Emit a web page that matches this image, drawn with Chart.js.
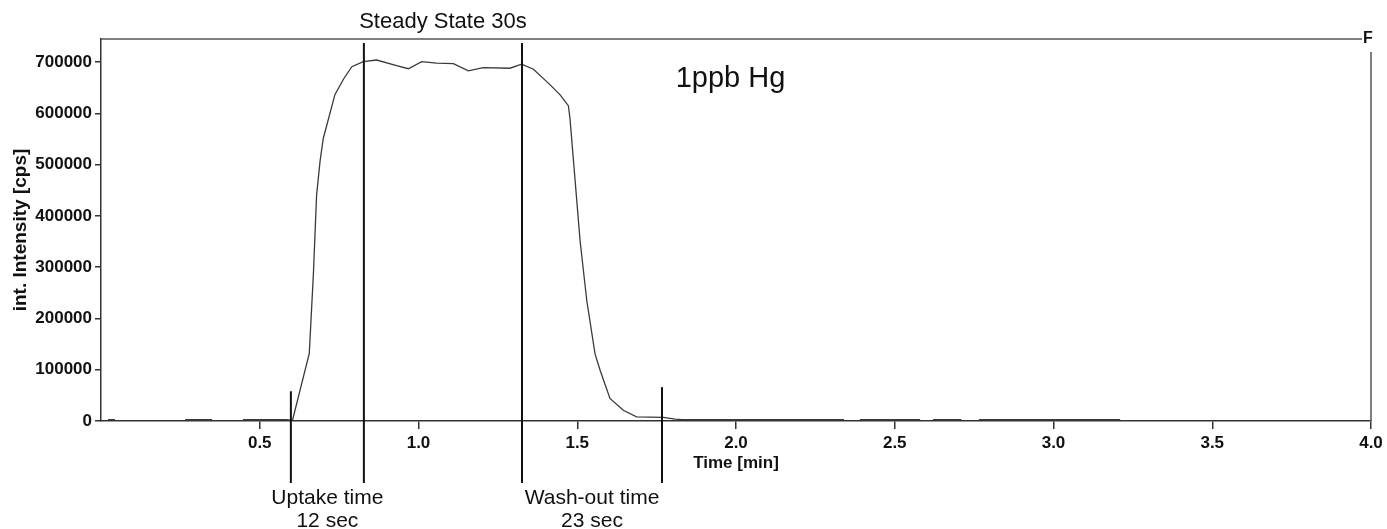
<!DOCTYPE html>
<html>
<head>
<meta charset="utf-8">
<script src="https://cdn.jsdelivr.net/npm/chart.js@4.4.1/dist/chart.umd.min.js"></script>
<style>
  html, body { margin: 0; padding: 0; background: #fff; }
  #wrap { width: 1387px; height: 529px; }
</style>
</head>
<body>
<div id="wrap"><canvas id="chart"></canvas></div>
<script>
// Hg signal (null = gap in the trace)
const timeMin = [0.022, 0.044, 0.045, 0.265, 0.350, 0.351, 0.447, 0.585, 0.603, 0.656, 0.669, 0.679,
  0.690, 0.700, 0.737, 0.765, 0.790, 0.826, 0.868, 0.931, 0.968, 1.010, 1.057, 1.110, 1.157, 1.204,
  1.288, 1.325, 1.362, 1.414, 1.446, 1.472, 1.477, 1.509, 1.530, 1.556, 1.572, 1.603, 1.645, 1.687,
  1.771, 1.808, 1.830, 2.340, 2.341, 2.390, 2.580, 2.581, 2.620, 2.710, 2.711, 2.765, 3.210];
const intensity = [2500, 2500, null, 2500, 2500, null, 2500, 2500, 1000, 132000, 287000, 440000,
  507000, 551000, 637000, 668000, 691000, 701000, 704000, 693000, 687000, 701000, 698000, 697000, 683000, 689000,
  688000, 696000, 686000, 656000, 636000, 615000, 591000, 351000, 235000, 131000, 99000, 44000, 21000, 8000,
  7000, 3500, 2500, 2500, null, 2500, 2500, null, 2500, 2500, null, 2500, 2500];

const xTicks = [0.5, 1.0, 1.5, 2.0, 2.5, 3.0, 3.5, 4.0];
const yTicks = [0, 100000, 200000, 300000, 400000, 500000, 600000, 700000];

// marker lines: uptake start, steady start, steady end, wash-out end
const markerTimes = [0.598, 0.828, 1.326, 1.767];
const markerTops = [58000, 737000, 737000, 66000];

const fontFamily = '"Liberation Sans", Arial, sans-serif';

const annotate = {
  id: 'annotate',
  afterDraw(chart) {
    const { ctx, chartArea: a, scales: { x, y } } = chart;
    ctx.save();

    // top and right frame with the F mark
    ctx.strokeStyle = '#555';
    ctx.lineWidth = 1.5;
    ctx.beginPath();
    ctx.moveTo(a.left, a.top);
    ctx.lineTo(a.right - 9, a.top);
    ctx.stroke();
    ctx.beginPath();
    ctx.moveTo(a.right, a.top + 13);
    ctx.lineTo(a.right, a.bottom);
    ctx.stroke();
    ctx.fillStyle = '#111';
    ctx.font = 'bold 16px ' + fontFamily;
    ctx.textAlign = 'center';
    ctx.textBaseline = 'middle';
    ctx.fillText('F', a.right - 3, a.top);

    // vertical markers
    ctx.strokeStyle = '#111';
    ctx.lineWidth = 2;
    const px = markerTimes.map((t) => x.getPixelForValue(t));
    px.forEach((p, i) => {
      ctx.beginPath();
      ctx.moveTo(p, y.getPixelForValue(markerTops[i]));
      ctx.lineTo(p, a.bottom + 62);
      ctx.stroke();
    });

    ctx.font = '22px ' + fontFamily;
    ctx.fillText('Steady State 30s', (px[1] + px[2]) / 2, a.top - 17);
    ctx.font = '21px ' + fontFamily;
    ctx.fillText('Uptake time', (px[0] + px[1]) / 2, a.bottom + 77);
    ctx.fillText('12 sec', (px[0] + px[1]) / 2, a.bottom + 100);
    ctx.fillText('Wash-out time', (px[2] + px[3]) / 2, a.bottom + 77);
    ctx.fillText('23 sec', (px[2] + px[3]) / 2, a.bottom + 100);

    ctx.font = '29px ' + fontFamily;
    ctx.textAlign = 'left';
    ctx.textBaseline = 'alphabetic';
    ctx.fillText('1ppb Hg', x.getPixelForValue(1.81), y.getPixelForValue(651000));
    ctx.restore();
  }
};

new Chart(document.getElementById('chart'), {
  type: 'line',
  data: {
    datasets: [{
      data: timeMin.map((t, i) => ({ x: t, y: intensity[i] })),
      borderColor: '#3a3a3a',
      borderWidth: 1.3,
      pointRadius: 0,
      tension: 0,
      spanGaps: false
    }]
  },
  options: {
    responsive: true,
    maintainAspectRatio: false,
    animation: false,
    layout: { padding: { top: 39, right: 16, left: 0, bottom: 0 } },
    plugins: { legend: { display: false }, tooltip: { enabled: false } },
    scales: {
      x: {
        type: 'linear',
        min: 0,
        max: 4,
        afterBuildTicks: (s) => { s.ticks = xTicks.map((v) => ({ value: v })); },
        afterFit: (s) => { s.height = 108; },
        ticks: {
          color: '#111',
          padding: 4,
          maxRotation: 0,
          font: { family: fontFamily, size: 17, weight: 'bold' },
          callback: (v) => Number(v).toFixed(1)
        },
        grid: { drawOnChartArea: false, tickLength: 8, color: '#333', lineWidth: 1.5 },
        border: { color: '#333', width: 1.5 },
        title: {
          display: true,
          text: 'Time [min]',
          color: '#111',
          font: { family: fontFamily, size: 17, weight: 'bold' },
          padding: { top: 0, bottom: 55 }
        }
      },
      y: {
        min: 0,
        max: 745000,
        afterBuildTicks: (s) => { s.ticks = yTicks.map((v) => ({ value: v })); },
        afterFit: (s) => { s.width = 101; },
        ticks: {
          color: '#111',
          padding: 3,
          font: { family: fontFamily, size: 17, weight: 'bold' },
          callback: (v) => String(v)
        },
        grid: { drawOnChartArea: false, tickLength: 6, color: '#333', lineWidth: 1.5 },
        border: { color: '#333', width: 1.5 },
        title: {
          display: true,
          text: 'int. Intensity [cps]',
          color: '#111',
          font: { family: fontFamily, size: 19, weight: 'bold' },
          padding: { top: 9, bottom: 0 }
        }
      }
    }
  },
  plugins: [annotate]
});
</script>
</body>
</html>
